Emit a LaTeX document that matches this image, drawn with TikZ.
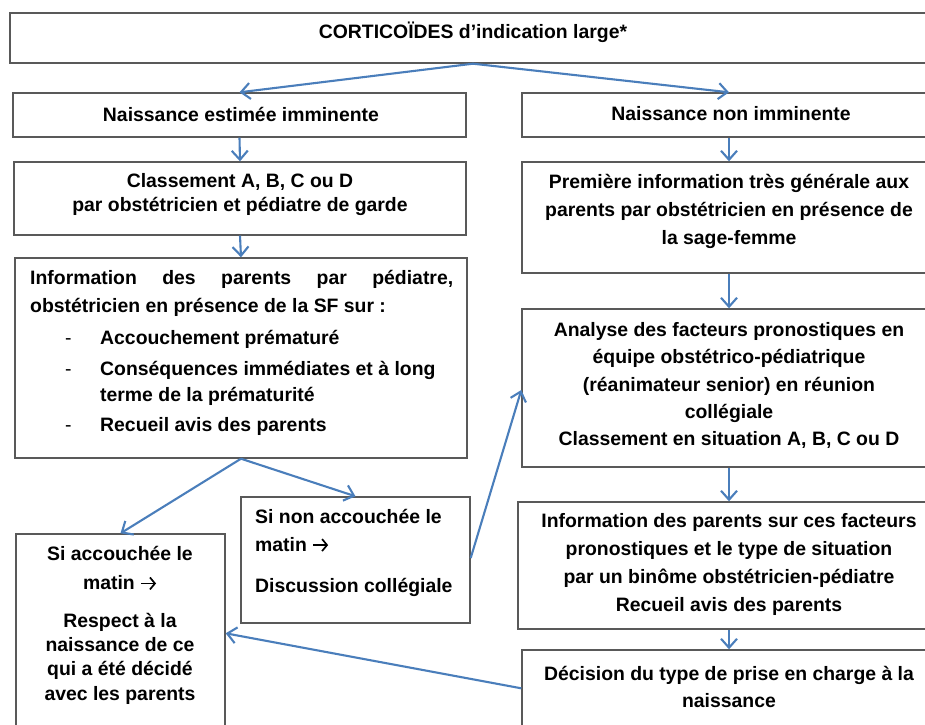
\documentclass[tikz,border=0pt]{standalone}
\usepackage{fontspec}
\setmainfont{Liberation Sans}
\usetikzlibrary{arrows.meta,calc}
\newcommand{\rarr}{\tikz[baseline=0pt,x=1pt,y=1pt]{\draw[line width=1.7pt, -{Straight Barb[length=5pt,width=12pt,line width=1.7pt]}] (0,6.5) -- (15,6.5);}}
\tikzset{
  box/.style={draw=black!65, line width=1.4pt, rectangle, inner sep=0pt},
  txt/.style={inner sep=0pt, font=\bfseries\fontsize{19.4}{28}\selectfont, align=center, text=black},
  conn/.style={draw={rgb,255:red,74;green,126;blue,187}, line width=2.1pt, -{Straight Barb[length=9pt,width=16pt,line width=2.1pt]}},
}
\newcommand{\dashitem}{\makebox[35pt][l]{\mdseries-}}
\begin{document}
\begin{tikzpicture}[x=1pt,y=-1pt]
\useasboundingbox (0,0) rectangle (925,724);
\clip (0,0) rectangle (925,724);
% boxes
\node[box, minimum width=926, minimum height=50] (B0) at (473,38) {};
\node[box, minimum width=453, minimum height=44] (BL1) at (239.5,115) {};
\node[box, minimum width=414, minimum height=44] (BR1) at (729,115) {};
\node[box, minimum width=452, minimum height=73] (BL2) at (240,198.5) {};
\node[box, minimum width=452, minimum height=200] (BL3) at (241,358) {};
\node[box, minimum width=414, minimum height=111] (BR2) at (729,217.5) {};
\node[box, minimum width=414, minimum height=158] (BR3) at (729,388) {};
\node[box, minimum width=418, minimum height=127] (BR4) at (727,565.5) {};
\node[box, minimum width=414, minimum height=110] (BR5) at (729,705) {};
\node[box, minimum width=229, minimum height=126] (BSN) at (355.5,560) {};
\node[box, minimum width=209, minimum height=226] (BSA) at (120.5,647) {};
% texts
\node[txt] (T0) at (473,32) {CORTICOÏDES d’indication large*};
\node[txt] (TL1) at (241,114) {Naissance estimée imminente};
\node[txt] (TR1) at (731,114) {Naissance non imminente};
\node[txt, font=\bfseries\fontsize{19.4}{24}\selectfont] (TL2) at (240,195) {Classement A, B, C ou D\\par obstétricien et pédiatre de garde};
\node[txt, align=left, anchor=west] (TL3) at (30,293) {\hbox to 423pt{Information\hfill des\hfill parents\hfill par\hfill pédiatre,}\\obstétricien en présence de la SF sur :};
\node[txt, anchor=west] (I1) at (65,339) {\dashitem Accouchement prématuré};
\node[txt, anchor=west, align=left, font=\bfseries\fontsize{19.4}{26}\selectfont] (I2) at (65,383) {\dashitem Conséquences immédiates et à long\\\hspace*{35pt}terme de la prématurité};
\node[txt, anchor=west] (I3) at (65,426) {\dashitem Recueil avis des parents};
\node[txt] (TR2) at (729,211) {Première information très générale aux\\parents par obstétricien en présence de\\la sage-femme};
\node[txt, font=\bfseries\fontsize{19.4}{27.3}\selectfont] (TR3) at (729,385.5) {Analyse des facteurs pronostiques en\\équipe obstétrico-pédiatrique\\(réanimateur senior) en réunion\\collégiale\\Classement en situation A, B, C ou D};
\node[txt, font=\bfseries\fontsize{19.4}{27.7}\selectfont] (TR4) at (729,564.5) {Information des parents sur ces facteurs\\pronostiques et le type de situation\\par un binôme obstétricien-pédiatre\\Recueil avis des parents};
\node[txt, font=\bfseries\fontsize{19.4}{27}\selectfont] (TR5) at (729,686.5) {Décision du type de prise en charge à la\\naissance};
\node[txt, align=left, anchor=west] (TSN) at (255,553) {Si non accouchée le\\matin \rarr\\[13pt]Discussion collégiale};
\node[txt, font=\bfseries\fontsize{19.4}{29}\selectfont] (TSA1) at (120,568.5) {Si accouchée le\\matin \rarr};
\node[txt, font=\bfseries\fontsize{19.4}{24.3}\selectfont] (TSA2) at (120,658.5) {Respect à la\\naissance de ce\\qui a été décidé\\avec les parents};
% connectors
\draw[conn] (B0.south) -- (BL1.north);
\draw[conn] (B0.south) -- (BR1.north);
\draw[conn] (BL1.south) -- (BL2.north);
\draw[conn] (BL2.south) -- (BL3.north);
\draw[conn] (BR1.south) -- (BR2.north);
\draw[conn] (BR2.south) -- (BR3.north);
\draw[conn] (BR3.south) -- (BR3.south |- BR4.north);
\draw[conn] (BR3.south |- BR4.south) -- (BR3.south |- BR5.north);
\draw[conn] (BL3.south) -- (BSA.north);
\draw[conn] (BL3.south) -- (BSN.north);
\draw[conn] ([yshift=2pt]BSN.east) -- ([yshift=-2pt]BR3.west);
\draw[conn] ([yshift=-39pt]BR5.north west) -- ([yshift=-100pt]BSA.north east);
\end{tikzpicture}
\end{document}
